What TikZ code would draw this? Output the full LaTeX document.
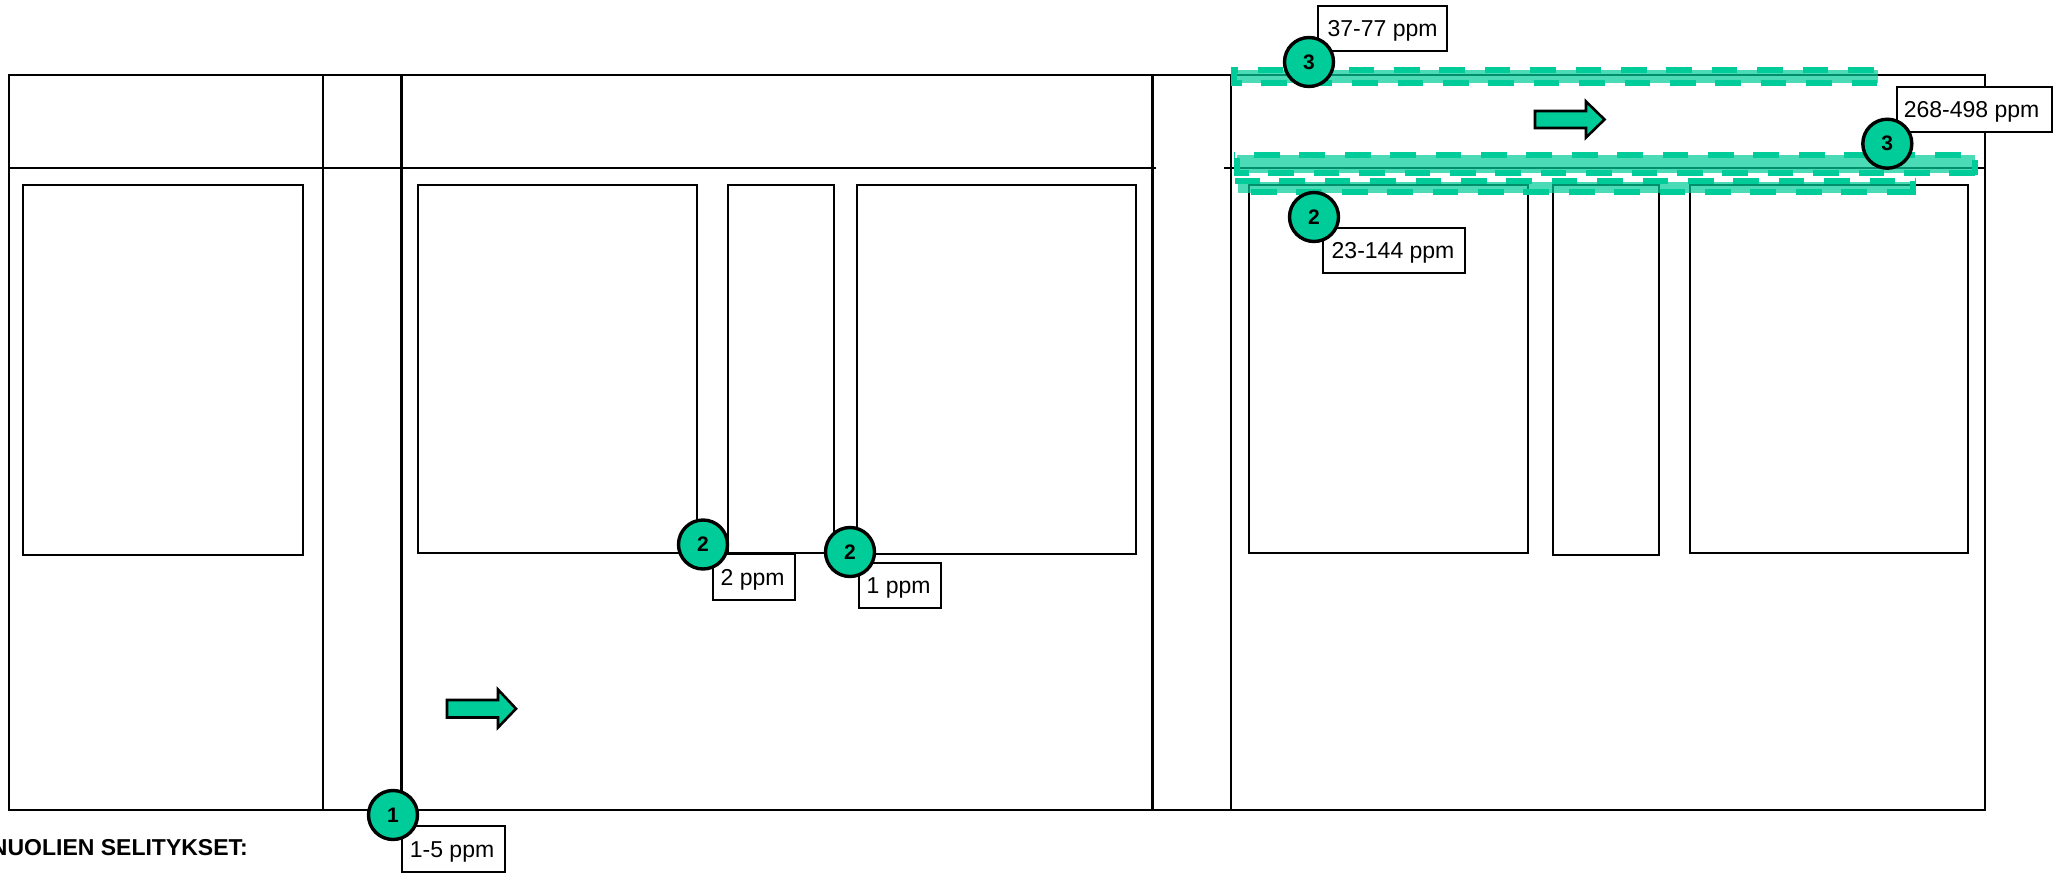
\documentclass[tikz,border=0pt]{standalone}
\usepackage{fontspec}
\setmainfont{Liberation Sans}
\definecolor{mint}{HTML}{00CC99}
\tikzset{
  x=1pt,y=-1pt,
  frameline/.style={draw=black,line width=2.2pt},
  heavyline/.style={draw=black,line width=3.2pt},
  innerbox/.style={draw=black,line width=2pt},
  band/.style={fill=mint,opacity=.7},
  dashrow/.style={draw=mint,line width=6pt,dash pattern=on 25.7pt off 19.7pt},
  edgedash/.style={draw=mint,line width=6pt},
  flowarrow/.style={draw=black,fill=mint,line width=2.6pt,miter limit=10},
  ppm/.style={draw=black,fill=white,line width=2.1pt,inner sep=0pt,text height=16.5pt,text depth=0pt,
    font=\fontsize{23}{27}\selectfont,anchor=north west},
  badge/.style={circle,draw=black,fill=mint,line width=3.4pt,minimum size=49pt,inner sep=0pt,
    font=\bfseries\fontsize{21}{25}\selectfont},
}
\begin{document}
\begin{tikzpicture}
\useasboundingbox (0,0) rectangle (2064,873);
% frame
\draw[frameline] (9,75) rectangle (1985,810);
\draw[frameline] (323,75) -- (323,810);
\draw[heavyline] (401.5,75) -- (401.5,810);
\draw[heavyline] (1152.5,75) -- (1152.5,810);
\draw[frameline] (1231,75) -- (1231,810);
\draw[frameline] (9,168) -- (1156,168);
\draw[frameline] (1224,168) -- (1985,168);
% inner rooms
\draw[innerbox] (23,185) rectangle (303,555);
\draw[innerbox] (418,185) rectangle (697,553);
\draw[innerbox] (728,185) rectangle (834,553);
\draw[innerbox] (857,185) rectangle (1136,554);
\draw[innerbox] (1249,185) rectangle (1528,553);
\draw[innerbox] (1553,185) rectangle (1659,555);
\draw[innerbox] (1690,185) rectangle (1968,553);
% strip 1
\fill[band] (1234,70) rectangle (1877.7,83);
\draw[dashrow,dash phase=18.7pt] (1231,70) -- (1875,70);
\draw[dashrow,dash phase=15.1pt] (1231,83) -- (1877.7,83);
\draw[edgedash] (1234,67) -- (1234,86);
% strip 2
\fill[band] (1237,155) rectangle (1975,172.7);
\draw[dashrow,dash phase=25.4pt] (1234,155.3) -- (1978,155.3);
\draw[dashrow,dash phase=11.1pt] (1234,172.5) -- (1975,172.5);
\draw[edgedash] (1237,158) -- (1237,175);
\draw[edgedash] (1975,160) -- (1975,175);
% strip 3
\fill[band] (1238,181.7) rectangle (1915,192.5);
\draw[dashrow,dash phase=1.1pt] (1235,181) -- (1915,181);
\draw[dashrow,dash phase=29.4pt] (1235,192.3) -- (1915,192.3);
\draw[edgedash] (1912.5,181) -- (1912.5,195);
% arrows
\draw[flowarrow] (447,700) -- (498,700) -- (498,689.5) -- (516,708.7) -- (498,727.5) -- (498,717.5) -- (447,717.5) -- cycle;
\draw[flowarrow] (1535,111) -- (1586,111) -- (1586,101.5) -- (1604.5,119.5) -- (1586,137.5) -- (1586,128) -- (1535,128) -- cycle;
% labels
\node[ppm,minimum width=129pt,minimum height=45.5pt] (l3a) at (1317,4.5) {37-77 ppm};
\node[ppm,minimum width=142pt,minimum height=45pt] (l2c) at (1322,227) {\hspace*{-2pt}23-144 ppm};
\node[ppm,minimum width=155pt,minimum height=45pt] (l3b) at (1896,86) {\hspace*{-6pt}268-498 ppm};
\node[ppm,minimum width=103pt,minimum height=46pt] (l1) at (401,825) {\hspace*{-3pt}1-5 ppm};
\node[ppm,minimum width=82pt,minimum height=46pt] (l2a) at (712,553) {\hspace*{-3pt}2 ppm};
\node[ppm,minimum width=82pt,minimum height=44.5pt] (l2b) at (858,562) {\hspace*{-3pt}1 ppm};
% badges
\node[badge] (b3a) at (1309,62) {3};
\node[badge] (b2c) at (1314,217) {2};
\node[badge] (b3b) at (1887.3,143.7) {3};
\node[badge] (b1) at (393,815) {1};
\node[badge] (b2a) at (703,544.5) {2};
\node[badge] (b2b) at (850,552) {2};
% legend title (cut by the page edge)
\begin{scope}
\clip (0,0) rectangle (2064,873);
\node[anchor=base east,inner sep=0pt,font=\bfseries\fontsize{23}{27}\selectfont] (legend) at (248,855) {NUOLIEN SELITYKSET:};
\end{scope}
\end{tikzpicture}
\end{document}
